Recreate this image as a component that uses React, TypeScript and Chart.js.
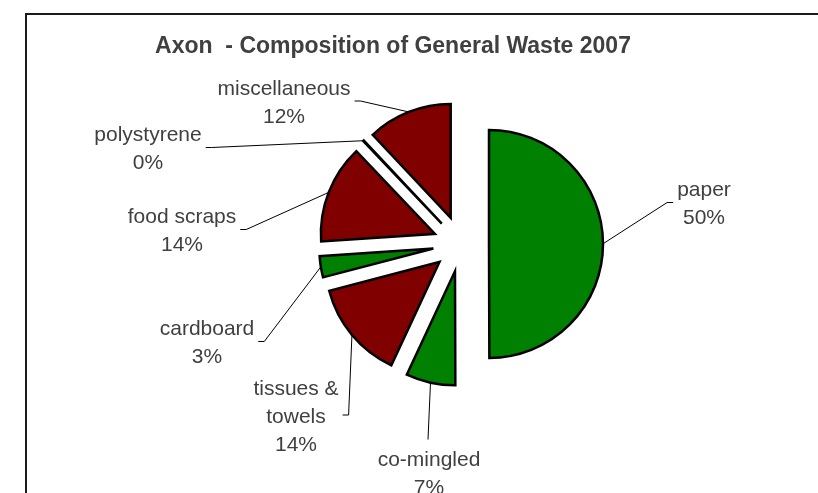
import React, { useEffect, useRef } from "react";
import { Chart, registerables } from "chart.js";

Chart.register(...registerables);

// ---------- data ----------
const TITLE = "Axon  - Composition of General Waste 2007";
const CATEGORIES = ["paper", "co-mingled", "tissues & towels", "cardboard", "food scraps", "polystyrene", "miscellaneous"];
const LABEL_LINES = [["paper"], ["co-mingled"], ["tissues &", "towels"], ["cardboard"], ["food scraps"], ["polystyrene"], ["miscellaneous"]];
const VALUES = [50, 7, 14, 3, 14, 0.1, 12];
const COLORS = ["#008000", "#008000", "#800000", "#008000", "#800000", "#800000", "#800000"];

// ---------- layout (not data) ----------
const EXPLODE = 28;
const RADIUS = 114;
const FONT = "Liberation Sans, Arial, sans-serif";
const LINE_H = 28;
// label block centre relative to pie centre, and which side the leader leaves from
const LABEL_LAYOUT: { dx: number; dy: number; side: "left" | "right" | "top" }[] = [
  { dx: 243, dy: -41.5, side: "left" },
  { dx: -32, dy: 228.5, side: "top" },
  { dx: -165, dy: 171, side: "right" },
  { dx: -254, dy: 97.5, side: "right" },
  { dx: -279, dy: -14.5, side: "right" },
  { dx: -313, dy: -96.5, side: "right" },
  { dx: -177, dy: -143, side: "right" },
];

const explodePlugin = {
  id: "explode",
  beforeDatasetDraw(chart: any, args: any) {
    const ctx = chart.ctx;
    args.meta.data.forEach((el: any) => {
      const mid = (el.startAngle + el.endAngle) / 2;
      ctx.save();
      ctx.translate(Math.cos(mid) * EXPLODE, Math.sin(mid) * EXPLODE);
      el.draw(ctx, chart.chartArea);
      ctx.restore();
    });
    return false;
  },
};

const framePlugin = {
  id: "frame",
  beforeDraw(chart: any) {
    const ctx = chart.ctx;
    ctx.save();
    ctx.fillStyle = "#ffffff";
    ctx.fillRect(0, 0, chart.width, chart.height);
    ctx.strokeStyle = "#1a1a1a";
    ctx.lineWidth = 2;
    ctx.beginPath();
    ctx.moveTo(26, chart.height + 2);
    ctx.lineTo(26, 14);
    ctx.lineTo(chart.width + 2, 14);
    ctx.stroke();
    ctx.restore();
  },
};

const labelPlugin = {
  id: "labels",
  afterDraw(chart: any) {
    const ctx = chart.ctx;
    const meta = chart.getDatasetMeta(0);
    const total = VALUES.reduce((a, b) => a + b, 0);
    ctx.save();
    // title
    ctx.fillStyle = "#404040";
    ctx.font = `bold 23px ${FONT}`;
    ctx.textAlign = "center";
    ctx.textBaseline = "alphabetic";
    ctx.fillText(TITLE, 393, 53);

    ctx.font = `21px ${FONT}`;
    meta.data.forEach((el: any, i: number) => {
      const mid = (el.startAngle + el.endAngle) / 2;
      const r = el.outerRadius + EXPLODE;
      const px = el.x + Math.cos(mid) * r;
      const py = el.y + Math.sin(mid) * r;
      const lay = LABEL_LAYOUT[i];
      const cx = el.x + lay.dx;
      const cy = el.y + lay.dy;
      const lines = [...LABEL_LINES[i], Math.round((VALUES[i] / total) * 100) + "%"];
      const n = lines.length;
      const w = Math.max(...lines.map((t) => ctx.measureText(t).width));
      // leader
      ctx.strokeStyle = "#000000";
      ctx.lineWidth = 1;
      ctx.beginPath();
      if (lay.side === "right") {
        const sx = cx + w / 2 + 4;
        ctx.moveTo(sx, cy);
        ctx.lineTo(sx + 6, cy);
        ctx.lineTo(px, py);
      } else if (lay.side === "left") {
        const sx = cx - w / 2 - 4;
        ctx.moveTo(sx, cy);
        ctx.lineTo(sx - 6, cy);
        ctx.lineTo(px, py);
      } else {
        const sy = cy - (n * LINE_H) / 2 - 5;
        ctx.moveTo(cx - 1, sy);
        ctx.lineTo(px, py);
      }
      ctx.stroke();
      // text
      ctx.fillStyle = "#404040";
      lines.forEach((t, k) => {
        const lc = cy + (k - (n - 1) / 2) * LINE_H;
        ctx.fillText(t, cx, lc + 7.5);
      });
    });
    ctx.restore();
  },
};

export default function App() {
  const ref = useRef<HTMLCanvasElement | null>(null);
  useEffect(() => {
    if (!ref.current) return;
    const chart = new Chart(ref.current, {
      type: "pie",
      data: {
        labels: CATEGORIES,
        datasets: [
          {
            data: VALUES,
            backgroundColor: COLORS,
            borderColor: "#000000",
            borderWidth: 2.5,
            borderJoinStyle: "miter",
          } as any,
        ],
      },
      options: {
        responsive: false,
        animation: false,
        events: [],
        radius: RADIUS,
        layout: { padding: { left: 104, right: 0, top: 0, bottom: 5 } },
        plugins: {
          legend: { display: false },
          tooltip: { enabled: false },
          title: { display: false },
        },
      } as any,
      plugins: [framePlugin, explodePlugin, labelPlugin],
    });
    return () => chart.destroy();
  }, []);
  return (
    <div style={{ position: "absolute", left: 0, top: 0, width: 818, height: 493 }}>
      <canvas ref={ref} width={818} height={493} style={{ display: "block", width: 818, height: 493 }} />
    </div>
  );
}
